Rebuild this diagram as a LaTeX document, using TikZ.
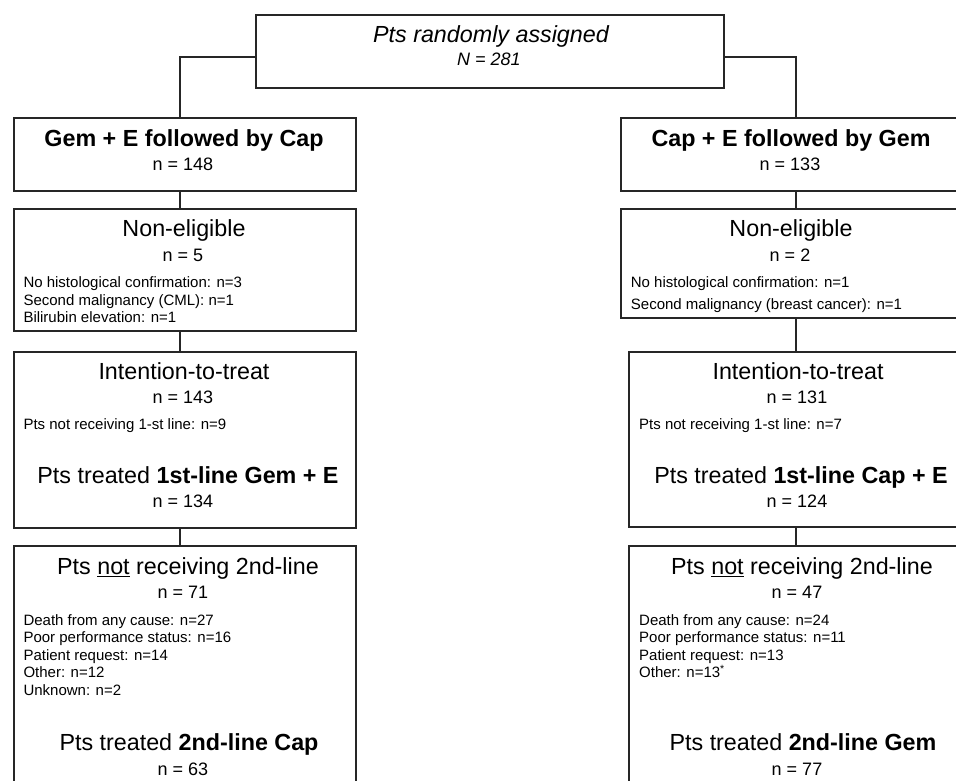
\documentclass[tikz,border=0pt]{standalone}
\usepackage{fontspec}
\setmainfont{Liberation Sans}
\usepackage{tikz}

\begin{document}
\begin{tikzpicture}[x=1pt,y=1pt,yscale=-1,
  box/.style={draw=black!85, line width=1.5pt, inner sep=0pt, anchor=north west},
  link/.style={draw=black!85, line width=1.5pt},
  big/.style={anchor=base, inner sep=0pt, font=\fontsize{23.3}{28}\selectfont},
  num/.style={anchor=base, inner sep=0pt, font=\fontsize{18}{22}\selectfont},
  small/.style={anchor=base west, inner sep=0pt, font=\fontsize{15}{18}\selectfont}]
\useasboundingbox (0,0) rectangle (956,780);
\clip (0,0) rectangle (956,780);

%Shape: Rectangles
\node[box, minimum width=468pt, minimum height=73pt] (rand) at (255,14) {};
\node[box, minimum width=342pt, minimum height=73pt] (L1) at (13,117) {};
\node[box, minimum width=344pt, minimum height=73pt] (R1) at (620,117) {};
\node[box, minimum width=342pt, minimum height=122pt] (L2) at (13,208) {};
\node[box, minimum width=344pt, minimum height=109pt] (R2) at (620,208) {};
\node[box, minimum width=342pt, minimum height=176pt] (L3) at (13,351) {};
\node[box, minimum width=346pt, minimum height=175pt] (R3) at (628,351) {};
\node[box, minimum width=342pt, minimum height=260pt] (L4) at (13,545) {};
\node[box, minimum width=346pt, minimum height=260pt] (R4) at (628,545) {};

%Straight Lines
\coordinate (lspine) at (180,0);
\coordinate (rspine) at (796,0);
\draw[link] ([yshift=5.5pt]rand.west) -| (L1.north -| lspine);
\draw[link] ([yshift=5.5pt]rand.east) -| (R1.north -| rspine);
\draw[link] (L1.south -| lspine) -- (L2.north -| lspine);
\draw[link] (L2.south -| lspine) -- (L3.north -| lspine);
\draw[link] (L3.south -| lspine) -- (L4.north -| lspine);
\draw[link] (R1.south -| rspine) -- (R2.north -| rspine);
\draw[link] (R2.south -| rspine) -- (R3.north -| rspine);
\draw[link] (R3.south -| rspine) -- (R4.north -| rspine);

% Text Node
\node[big] (randT) at (491,42) {\itshape Pts randomly assigned};
\node[num] (randN) at (489,65) {\itshape N = 281};

% Text Node
\node[big] (armA) at (184,146.7) {\bfseries Gem + E followed by Cap};
\node[num] (armAn) at (183,170.7) {n = 148};
\node[big] (armB) at (791,146.7) {\bfseries Cap + E followed by Gem};
\node[num] (armBn) at (790,170.7) {n = 133};

% Text Node
\node[big] (neA) at (184,236.7) {Non-eligible};
\node[num] (neAn) at (183,261) {n = 5};
\node[small] (neA1) at (23.3,287.3) {No histological confirmation: n=3};
\node[small] (neA2) at (23.3,305) {Second malignancy (CML): n=1};
\node[small] (neA3) at (23.3,322.7) {Bilirubin elevation: n=1};
\node[big] (neB) at (791,236.7) {Non-eligible};
\node[num] (neBn) at (790,261) {n = 2};
\node[small] (neB1) at (630.7,287.3) {No histological confirmation: n=1};
\node[small] (neB2) at (630.7,309.3) {Second malignancy (breast cancer): n=1};

% Text Node
\node[big] (ittA) at (184,379.3) {Intention-to-treat};
\node[num] (ittAn) at (183,403.3) {n = 143};
\node[small] (ittA1) at (23.3,429.3) {Pts not receiving 1-st line: n=9};
\node[big] (firstA) at (188,483.3) {Pts treated \textbf{1st-line Gem + E}};
\node[num] (firstAn) at (183,507.3) {n = 134};
\node[big] (ittB) at (798,379.3) {Intention-to-treat};
\node[num] (ittBn) at (797,403.3) {n = 131};
\node[small] (ittB1) at (639,429.3) {Pts not receiving 1-st line: n=7};
\node[big] (firstB) at (801,483.3) {Pts treated \textbf{1st-line Cap + E}};
\node[num] (firstBn) at (797,507.3) {n = 124};

% Text Node
\node[big] (noA) at (188,574.3) {Pts \underline{not} receiving 2nd-line};
\node[num] (noAn) at (183,598.3) {n = 71};
\node[small] (noA1) at (23.3,625) {Death from any cause: n=27};
\node[small] (noA2) at (23.3,642.3) {Poor performance status: n=16};
\node[small] (noA3) at (23.3,660) {Patient request: n=14};
\node[small] (noA4) at (23.3,677.7) {Other: n=12};
\node[small] (noA5) at (23.3,695.7) {Unknown: n=2};
\node[big] (secA) at (189,750.7) {Pts treated \textbf{2nd-line Cap}};
\node[num] (secAn) at (183,775) {n = 63};
\node[big] (noB) at (802,574.3) {Pts \underline{not} receiving 2nd-line};
\node[num] (noBn) at (797,598.3) {n = 47};
\node[small] (noB1) at (639,625) {Death from any cause: n=24};
\node[small] (noB2) at (639,642.3) {Poor performance status: n=11};
\node[small] (noB3) at (639,660) {Patient request: n=13};
\node[small] (noB4) at (639,677.7) {Other: n=13\textsuperscript{*}};
\node[big] (secB) at (803,750.7) {Pts treated \textbf{2nd-line Gem}};
\node[num] (secBn) at (797,775) {n = 77};

\end{tikzpicture}
\end{document}
